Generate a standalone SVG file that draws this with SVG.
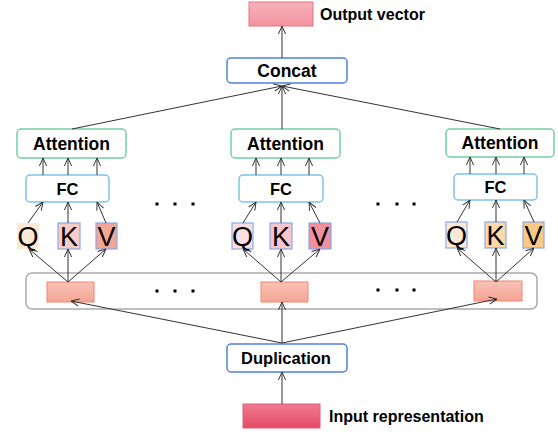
<svg xmlns="http://www.w3.org/2000/svg" width="558" height="432" viewBox="0 0 558 432">
<style>
.lbl{font-family:"Liberation Sans",Arial,sans-serif;font-weight:bold;font-size:16px;fill:#000;}
.big{font-family:"Liberation Sans",Arial,sans-serif;font-weight:bold;font-size:17.5px;fill:#000;text-anchor:middle;}
.qkv{font-family:"Liberation Sans",Arial,sans-serif;font-size:27px;fill:#000;text-anchor:middle;}
.att{fill:#fff;stroke:#74cfa2;stroke-width:1.5;}
.fc{fill:#fff;stroke:#7dc3ea;stroke-width:1.5;}
.blue{fill:#fff;stroke:#4f80dc;stroke-width:1.5;}
.qb{stroke:#8aa9e8;stroke-width:1.2;}
.seg{fill:url(#gSeg);stroke:#f2866f;stroke-width:1;}
.cn line,.cn path{stroke:#333;stroke-width:1;fill:none;marker-end:url(#ah);}
.dot{fill:#000;}
</style>
<defs>
<marker id="ah" viewBox="0 0 10 10" refX="10" refY="5" markerWidth="9" markerHeight="9" orient="auto" markerUnits="userSpaceOnUse">
<path d="M1,1 L10,5 L1,9" fill="none" stroke="#333" stroke-width="1.1"/>
</marker>
<linearGradient id="gSeg" x1="0" y1="0" x2="0" y2="1"><stop offset="0" stop-color="#f8c3b6"/><stop offset="1" stop-color="#f5a594"/></linearGradient>
<linearGradient id="gOut" x1="0" y1="0" x2="0" y2="1"><stop offset="0" stop-color="#f7b3bb"/><stop offset="1" stop-color="#f293a0"/></linearGradient>
<linearGradient id="gIn" x1="0" y1="0" x2="0" y2="1"><stop offset="0" stop-color="#f07a8e"/><stop offset="1" stop-color="#e44a66"/></linearGradient>
</defs>

<g id="container"><rect x="26" y="273" width="511" height="36" rx="6" fill="#fff" stroke="#aaa" stroke-width="1.5"/></g>

<g id="output"><rect x="249" y="2" width="64" height="24" fill="url(#gOut)" stroke="#e8707f" stroke-width="1"/><text class="lbl" x="320" y="20">Output vector</text></g>
<g id="concat"><rect class="blue" x="227" y="58" width="120" height="25" rx="4"/><text class="big" x="287" y="77">Concat</text></g>

<g id="att1"><rect class="att" x="17" y="129" width="109" height="29" rx="4"/><text class="big" x="71.5" y="150">Attention</text></g>
<g id="att2"><rect class="att" x="231" y="129" width="109" height="29" rx="4"/><text class="big" x="285.5" y="150">Attention</text></g>
<g id="att3"><rect class="att" x="446" y="129" width="108" height="28" rx="4"/><text class="big" x="500" y="149">Attention</text></g>

<g id="fc1"><rect class="fc" x="26" y="175" width="83" height="27" rx="4"/><text class="big" x="67.5" y="195" style="font-size:16.5px">FC</text></g>
<g id="fc2"><rect class="fc" x="239" y="175" width="84" height="27" rx="4"/><text class="big" x="281" y="195" style="font-size:16.5px">FC</text></g>
<g id="fc3"><rect class="fc" x="454" y="174" width="83" height="26" rx="4"/><text class="big" x="495.5" y="193" style="font-size:16.5px">FC</text></g>

<g id="q1"><rect x="17" y="223" width="22" height="26" fill="#fde8d4"/><text class="qkv" x="28" y="246">Q</text></g>
<g id="k1"><rect class="qb" x="58" y="223" width="22" height="26" fill="#f8cdc8"/><text class="qkv" x="69" y="246">K</text></g>
<g id="v1"><rect class="qb" x="96" y="223" width="21" height="26" fill="#f3a694"/><text class="qkv" x="106.5" y="246">V</text></g>

<g id="q2"><rect class="qb" x="232" y="223" width="21" height="26" fill="#fbdfe3"/><text class="qkv" x="242.5" y="246">Q</text></g>
<g id="k2"><rect class="qb" x="270" y="223" width="22" height="26" fill="#f7c5cd"/><text class="qkv" x="281" y="246">K</text></g>
<g id="v2"><rect class="qb" x="309" y="223" width="22" height="26" fill="#f0909f"/><text class="qkv" x="320" y="246">V</text></g>

<g id="q3"><rect class="qb" x="446" y="222" width="21" height="26" fill="#fde8d6"/><text class="qkv" x="456.5" y="245">Q</text></g>
<g id="k3"><rect class="qb" x="485" y="222" width="21" height="26" fill="#fdd9a8"/><text class="qkv" x="495.5" y="245">K</text></g>
<g id="v3"><rect class="qb" x="523" y="222" width="21" height="26" fill="#fcc886"/><text class="qkv" x="533.5" y="245">V</text></g>

<g id="seg1"><rect class="seg" x="47" y="282" width="47" height="20"/></g>
<g id="seg2"><rect class="seg" x="261" y="282" width="47" height="20"/></g>
<g id="seg3"><rect class="seg" x="474" y="281" width="48" height="20"/></g>

<g id="dup"><rect class="blue" x="227" y="344" width="120" height="28" rx="4"/><text class="big" x="286" y="364" style="font-size:16.5px">Duplication</text></g>
<g id="input"><rect x="243" y="404" width="77" height="24" fill="url(#gIn)" stroke="#e0607a" stroke-width="1"/><text class="lbl" x="329" y="422">Input representation</text></g>

<g id="dots">
<rect class="dot" x="155.5" y="202.5" width="3" height="3"/><rect class="dot" x="173.5" y="202.5" width="3" height="3"/><rect class="dot" x="191.5" y="202.5" width="3" height="3"/>
<rect class="dot" x="376.5" y="202.5" width="3" height="3"/><rect class="dot" x="395.5" y="202.5" width="3" height="3"/><rect class="dot" x="412.5" y="202.5" width="3" height="3"/>
<rect class="dot" x="155.5" y="289.5" width="3" height="3"/><rect class="dot" x="173.5" y="289.5" width="3" height="3"/><rect class="dot" x="191.5" y="289.5" width="3" height="3"/>
<rect class="dot" x="376.5" y="288.5" width="3" height="3"/><rect class="dot" x="395.5" y="288.5" width="3" height="3"/><rect class="dot" x="412.5" y="288.5" width="3" height="3"/>
</g>

<g id="connectors" class="cn">
<line x1="282" y1="404" x2="282" y2="372"/>
<line x1="282" y1="343" x2="71" y2="301"/>
<line x1="282" y1="343" x2="282" y2="302"/>
<line x1="282" y1="343" x2="497" y2="299"/>
<line x1="68" y1="282" x2="29" y2="249"/>
<line x1="68" y1="282" x2="68" y2="249"/>
<line x1="68" y1="282" x2="106" y2="249"/>
<line x1="281" y1="282" x2="243" y2="249"/>
<line x1="281" y1="282" x2="281" y2="249"/>
<line x1="281" y1="282" x2="320" y2="249"/>
<line x1="496" y1="282" x2="457" y2="248"/>
<line x1="496" y1="282" x2="496" y2="248"/>
<line x1="496" y1="282" x2="534" y2="248"/>
<line x1="28" y1="223" x2="43" y2="202"/>
<line x1="68" y1="223" x2="68" y2="202"/>
<line x1="106" y1="223" x2="97" y2="202"/>
<line x1="243" y1="223" x2="256" y2="202"/>
<line x1="281" y1="223" x2="281" y2="202"/>
<line x1="320" y1="223" x2="309" y2="202"/>
<line x1="457" y1="222" x2="470" y2="200"/>
<line x1="496" y1="222" x2="496" y2="200"/>
<line x1="534" y1="222" x2="524" y2="200"/>
<line x1="43" y1="175" x2="43" y2="158"/>
<line x1="68" y1="175" x2="68" y2="158"/>
<line x1="97" y1="175" x2="97" y2="158"/>
<line x1="256" y1="175" x2="256" y2="158"/>
<line x1="281" y1="175" x2="281" y2="158"/>
<line x1="309" y1="175" x2="309" y2="158"/>
<line x1="470" y1="174" x2="470" y2="157"/>
<line x1="496" y1="174" x2="496" y2="157"/>
<line x1="524" y1="174" x2="524" y2="157"/>
<line x1="72" y1="129" x2="282" y2="86"/>
<line x1="282" y1="129" x2="282" y2="86"/>
<line x1="500" y1="129" x2="282" y2="86"/>
<line x1="282" y1="58" x2="282" y2="26"/>
</g>
</svg>
